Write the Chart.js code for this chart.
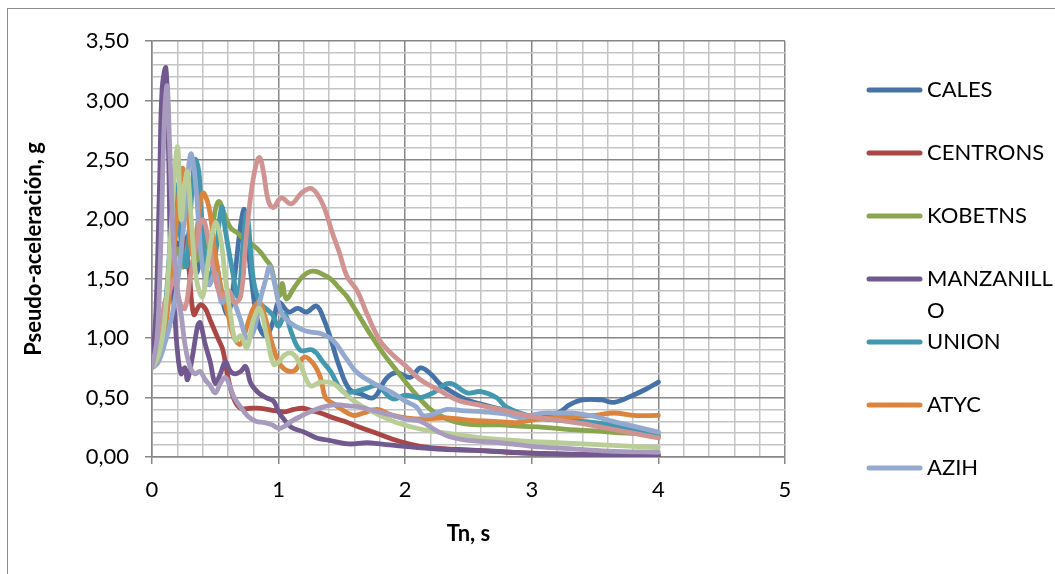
<!DOCTYPE html>
<html>
<head>
<meta charset="utf-8">
<script src="https://cdn.jsdelivr.net/npm/chart.js@4.4.1/dist/chart.umd.min.js"></script>
<style>
  html, body { margin: 0; padding: 0; background: #fff; overflow: hidden; }
  #wrap { position: relative; width: 1055px; height: 574px; overflow: hidden; }
  #frame { position: absolute; left: 7px; top: 8px; width: 1100px; height: 620px;
           border: 1.5px solid #8c8c8c; pointer-events: none; }
  canvas { position: absolute; left: 0; top: 0; }
</style>
</head>
<body>
<div id="wrap">
  <div id="frame"></div>
  <canvas id="c" width="1055" height="574"></canvas>
</div>
<script>
// ---- Data (Tn in s, pseudo-acceleration in g) ----
const seriesNames = ["CALES", "CENTRONS", "KOBETNS", "MANZANILLO", "UNION", "ATYC", "AZIH", "SERIE 8", "SERIE 9", "SERIE 10"];
const legendLines = [["CALES"], ["CENTRONS"], ["KOBETNS"], ["MANZANILL", "O"], ["UNION"], ["ATYC"], ["AZIH"]];
const seriesColors = ["#4572A7", "#AA4643", "#89A54E", "#71588F", "#4198AF", "#DB843D", "#93A9CF", "#D19392", "#B9CD96", "#A99BBD"];

const xTickValues = [0, 1, 2, 3, 4, 5];
const yTickValues = [0, 0.5, 1, 1.5, 2, 2.5, 3, 3.5];

const calesX = [0, 0.05, 0.1, 0.15, 0.2, 0.25, 0.3, 0.35, 0.4, 0.45, 0.5, 0.55, 0.6, 0.65, 0.7, 0.73, 0.78, 0.84, 0.9, 0.96, 1.0, 1.08, 1.15, 1.22, 1.3, 1.36, 1.41, 1.48, 1.56, 1.65, 1.75, 1.85, 1.93, 2.04, 2.12, 2.2, 2.27, 2.38, 2.49, 2.65, 2.8, 2.95, 3.1, 3.22, 3.3, 3.4, 3.55, 3.65, 3.8, 3.9, 4.0];
const calesY = [0.75, 0.85, 1.2, 1.5, 1.8, 1.6, 1.9, 1.55, 1.75, 1.45, 1.65, 1.35, 1.2, 1.5, 1.95, 2.08, 1.55, 1.12, 1.02, 1.15, 1.3, 1.22, 1.25, 1.22, 1.27, 1.15, 1.0, 0.76, 0.57, 0.53, 0.5, 0.66, 0.71, 0.67, 0.75, 0.7, 0.62, 0.54, 0.48, 0.43, 0.39, 0.35, 0.34, 0.38, 0.44, 0.48, 0.48, 0.46, 0.52, 0.57, 0.63];

const centronsX = [0, 0.05, 0.1, 0.15, 0.2, 0.25, 0.29, 0.33, 0.38, 0.42, 0.46, 0.52, 0.56, 0.6, 0.65, 0.7, 0.78, 0.86, 0.97, 1.05, 1.12, 1.19, 1.26, 1.33, 1.43, 1.52, 1.64, 1.8, 1.96, 2.12, 2.3, 2.5, 2.8, 3.1, 3.5, 4.0];
const centronsY = [0.75, 0.85, 1.15, 1.55, 1.95, 1.85, 1.6, 1.2, 1.28, 1.25, 1.15, 1.0, 0.9, 0.67, 0.48, 0.41, 0.41, 0.41, 0.39, 0.38, 0.4, 0.41, 0.39, 0.37, 0.33, 0.3, 0.25, 0.19, 0.13, 0.09, 0.07, 0.06, 0.04, 0.03, 0.02, 0.01];

const kobetnsX = [0, 0.05, 0.1, 0.15, 0.2, 0.25, 0.3, 0.35, 0.4, 0.45, 0.5, 0.53, 0.57, 0.62, 0.68, 0.73, 0.8, 0.86, 0.9, 0.94, 0.98, 1.01, 1.03, 1.06, 1.12, 1.19, 1.25, 1.3, 1.36, 1.41, 1.48, 1.54, 1.6, 1.72, 1.82, 1.93, 2.05, 2.2, 2.33, 2.46, 2.6, 2.75, 2.9, 3.1, 3.3, 3.5, 3.75, 4.0];
const kobetnsY = [0.75, 0.82, 1.1, 1.5, 1.75, 1.6, 1.85, 1.65, 1.9, 1.75, 2.08, 2.15, 2.05, 1.93, 1.88, 1.83, 1.78, 1.72, 1.66, 1.6, 1.42, 1.36, 1.46, 1.33, 1.42, 1.52, 1.56, 1.56, 1.53, 1.5, 1.42, 1.35, 1.25, 1.04, 0.88, 0.73, 0.57, 0.4, 0.32, 0.28, 0.27, 0.27, 0.26, 0.25, 0.23, 0.22, 0.2, 0.19];

const manzanilloX = [0, 0.03, 0.06, 0.08, 0.11, 0.13, 0.15, 0.18, 0.2, 0.23, 0.26, 0.28, 0.32, 0.36, 0.38, 0.42, 0.46, 0.5, 0.54, 0.58, 0.62, 0.66, 0.7, 0.74, 0.78, 0.84, 0.9, 0.96, 1.0, 1.04, 1.1, 1.2, 1.3, 1.4, 1.55, 1.7, 1.8, 1.9, 2.1, 2.4, 2.7, 3.0, 3.5, 4.0];
const manzanilloY = [0.75, 1.2, 2.3, 3.1, 3.27, 2.6, 1.6, 1.2, 0.9, 0.7, 0.75, 0.65, 0.85, 1.1, 1.13, 0.95, 0.8, 0.62, 0.7, 0.8, 0.72, 0.7, 0.72, 0.76, 0.62, 0.54, 0.5, 0.47, 0.38, 0.32, 0.25, 0.21, 0.16, 0.14, 0.11, 0.12, 0.11, 0.1, 0.08, 0.06, 0.05, 0.03, 0.02, 0.02];

const unionX = [0, 0.05, 0.1, 0.15, 0.18, 0.22, 0.27, 0.3, 0.34, 0.37, 0.4, 0.45, 0.5, 0.55, 0.58, 0.63, 0.68, 0.72, 0.75, 0.8, 0.85, 0.9, 0.95, 1.0, 1.05, 1.1, 1.17, 1.27, 1.35, 1.41, 1.51, 1.6, 1.7, 1.78, 1.9, 2.0, 2.12, 2.22, 2.35, 2.49, 2.6, 2.72, 2.8, 3.0, 3.2, 3.5, 3.8, 4.0];
const unionY = [0.75, 0.85, 1.2, 1.9, 2.3, 1.9, 1.6, 2.0, 2.5, 2.4, 1.9, 1.5, 1.7, 2.1, 1.9, 1.6, 1.35, 1.8, 2.05, 1.5, 1.3, 1.25, 1.2, 1.1, 1.2, 1.05, 0.9, 0.9, 0.8, 0.72, 0.55, 0.55, 0.58, 0.6, 0.49, 0.52, 0.5, 0.54, 0.62, 0.54, 0.55, 0.5, 0.42, 0.34, 0.31, 0.29, 0.23, 0.17];

const atycX = [0, 0.05, 0.1, 0.15, 0.2, 0.24, 0.28, 0.32, 0.36, 0.4, 0.45, 0.5, 0.55, 0.6, 0.65, 0.7, 0.75, 0.8, 0.85, 0.9, 0.95, 1.0, 1.06, 1.13, 1.2, 1.27, 1.33, 1.37, 1.43, 1.5, 1.59, 1.67, 1.78, 1.9, 2.0, 2.15, 2.33, 2.5, 2.7, 2.88, 3.0, 3.15, 3.35, 3.5, 3.65, 3.8, 4.0];
const atycY = [0.75, 0.8, 1.05, 1.5, 2.05, 2.43, 2.1, 1.7, 1.95, 2.22, 2.1, 1.7, 1.4, 1.2, 1.0, 0.95, 1.1, 1.25, 1.3, 1.15, 0.95, 0.8, 0.73, 0.73, 0.84, 0.79, 0.67, 0.5, 0.45, 0.4, 0.35, 0.37, 0.4, 0.35, 0.33, 0.32, 0.33, 0.31, 0.3, 0.29, 0.31, 0.33, 0.34, 0.35, 0.37, 0.35, 0.35];

const azihX = [0, 0.05, 0.1, 0.15, 0.2, 0.25, 0.29, 0.31, 0.34, 0.37, 0.4, 0.45, 0.5, 0.55, 0.6, 0.65, 0.7, 0.75, 0.8, 0.85, 0.9, 0.93, 0.97, 1.02, 1.09, 1.19, 1.26, 1.33, 1.43, 1.54, 1.62, 1.75, 1.9, 2.0, 2.09, 2.14, 2.22, 2.33, 2.45, 2.62, 2.8, 2.91, 3.0, 3.09, 3.2, 3.33, 3.5, 3.64, 3.8, 4.0];
const azihY = [0.75, 0.8, 0.95, 1.15, 1.45, 1.95, 2.45, 2.55, 2.35, 1.95, 1.6, 1.45, 1.55, 1.3, 1.4, 1.3, 1.15, 1.0, 1.05, 1.3, 1.5, 1.6, 1.45, 1.22, 1.13, 1.07, 1.05, 1.04, 0.98, 0.82, 0.71, 0.62, 0.54, 0.47, 0.42, 0.35, 0.36, 0.4, 0.39, 0.38, 0.36, 0.33, 0.35, 0.37, 0.37, 0.37, 0.34, 0.3, 0.26, 0.21];

const serie8X = [0, 0.05, 0.1, 0.14, 0.18, 0.22, 0.26, 0.3, 0.35, 0.4, 0.45, 0.5, 0.55, 0.6, 0.65, 0.7, 0.74, 0.78, 0.82, 0.85, 0.88, 0.92, 0.96, 1.02, 1.1, 1.18, 1.25, 1.3, 1.36, 1.42, 1.48, 1.54, 1.62, 1.7, 1.8, 1.9, 2.0, 2.12, 2.27, 2.41, 2.57, 2.75, 3.0, 3.2, 3.4, 3.6, 3.8, 4.0];
const serie8Y = [0.75, 0.9, 1.3, 1.4, 1.5, 1.3, 1.25, 1.5, 1.8, 2.0, 1.8, 1.5, 1.35, 1.4, 1.3, 1.35, 1.8, 2.2, 2.45, 2.52, 2.4, 2.15, 2.1, 2.18, 2.13, 2.22, 2.26, 2.22, 2.1, 1.9, 1.72, 1.52, 1.4, 1.2, 0.98, 0.86, 0.77, 0.65, 0.56, 0.48, 0.44, 0.4, 0.34, 0.31, 0.28, 0.24, 0.2, 0.16];

const serie9X = [0, 0.05, 0.1, 0.15, 0.2, 0.23, 0.26, 0.28, 0.31, 0.35, 0.4, 0.45, 0.5, 0.54, 0.58, 0.62, 0.66, 0.7, 0.75, 0.8, 0.85, 0.91, 0.96, 1.0, 1.05, 1.11, 1.17, 1.25, 1.33, 1.43, 1.56, 1.64, 1.8, 1.93, 2.1, 2.33, 2.6, 2.85, 3.2, 3.6, 4.0];
const serie9Y = [0.75, 0.85, 1.15, 1.9, 2.61, 2.0, 2.3, 2.4, 2.0, 1.5, 1.35, 1.7, 1.97, 1.85, 1.5, 1.2, 0.98, 1.02, 0.92, 1.15, 1.25, 1.0, 0.78, 0.8, 0.86, 0.87, 0.78, 0.6, 0.63, 0.62, 0.5, 0.44, 0.35, 0.29, 0.24, 0.2, 0.16, 0.14, 0.12, 0.1, 0.08];

const serie10X = [0, 0.04, 0.07, 0.1, 0.12, 0.14, 0.17, 0.2, 0.23, 0.26, 0.3, 0.34, 0.38, 0.42, 0.46, 0.5, 0.54, 0.58, 0.62, 0.65, 0.7, 0.76, 0.82, 0.89, 0.95, 1.0, 1.05, 1.1, 1.17, 1.25, 1.35, 1.45, 1.55, 1.64, 1.75, 1.9, 2.0, 2.12, 2.25, 2.35, 2.5, 2.75, 3.0, 3.3, 3.6, 4.0];
const serie10Y = [0.75, 1.0, 1.8, 2.9, 3.12, 2.6, 1.8, 1.4, 1.2, 0.95, 0.76, 0.7, 0.72, 0.65, 0.6, 0.54, 0.62, 0.67, 0.58, 0.5, 0.42, 0.34, 0.3, 0.29, 0.27, 0.24, 0.26, 0.3, 0.34, 0.38, 0.42, 0.44, 0.43, 0.42, 0.39, 0.35, 0.32, 0.3, 0.22, 0.17, 0.14, 0.12, 0.09, 0.07, 0.05, 0.04];

const seriesX = [calesX, centronsX, kobetnsX, manzanilloX, unionX, atycX, azihX, serie8X, serie9X, serie10X];
const seriesY = [calesY, centronsY, kobetnsY, manzanilloY, unionY, atycY, azihY, serie8Y, serie9Y, serie10Y];

// ---- Build datasets ----
const datasets = seriesNames.map((name, i) => ({
  label: name,
  data: seriesX[i].map((x, k) => ({ x: x, y: seriesY[i][k] })),
  borderColor: seriesColors[i],
  backgroundColor: seriesColors[i],
  borderWidth: 4.8,
  pointRadius: 0,
  showLine: true,
  tension: 0.4,
  borderCapStyle: 'round',
  borderJoinStyle: 'round',
  order: seriesNames.length - i
}));

const FONT = "Lato";
const MAJOR = '#878787';
const MINOR = '#c4c4c4';
const near = (v, list) => list.some(t => Math.abs(v - t) < 1e-6);

// Excel-like legend on the right (first seven entries visible)
const sideLegend = {
  id: 'sideLegend',
  afterDraw(chart) {
    const ctx = chart.ctx;
    ctx.save();
    ctx.font = "22px " + FONT;
    ctx.fillStyle = '#000';
    ctx.textBaseline = 'middle';
    ctx.textAlign = 'left';
    legendLines.forEach((lines, i) => {
      const y = 90 + 63 * i;
      ctx.strokeStyle = chart.data.datasets[i].borderColor;
      ctx.lineWidth = 5;
      ctx.lineCap = 'round';
      ctx.beginPath();
      ctx.moveTo(869, y);
      ctx.lineTo(920, y);
      ctx.stroke();
      lines.forEach((t, j) => ctx.fillText(t, 927, y + 32 * j));
    });
    ctx.restore();
  }
};

new Chart(document.getElementById('c'), {
  type: 'scatter',
  data: { datasets: datasets },
  plugins: [sideLegend],
  options: {
    responsive: false,
    animation: false,
    devicePixelRatio: 1,
    layout: { padding: { left: 0, top: 41, right: 270, bottom: 0 } },
    plugins: { legend: { display: false }, tooltip: { enabled: false } },
    scales: {
      x: {
        type: 'linear', min: 0, max: 5,
        afterFit: (s) => { s.height = 117; },
        ticks: {
          stepSize: 0.2, autoSkip: false, maxRotation: 0, padding: 13,
          color: '#000', font: { family: FONT, size: 22 },
          callback: (v) => near(v, xTickValues) ? String(Math.round(v)) : ''
        },
        grid: {
          color: (c) => near(c.tick.value, xTickValues) ? MAJOR : MINOR,
          lineWidth: 1.5,
          tickLength: 7,
          tickColor: (c) => near(c.tick.value, xTickValues) ? MAJOR : 'rgba(0,0,0,0)'
        },
        border: { color: MAJOR, width: 1.5 },
        title: {
          display: true, text: 'Tn, s', color: '#000',
          font: { family: FONT, size: 22, weight: 'bold' },
          padding: { top: 0, bottom: 27 }
        }
      },
      y: {
        type: 'linear', min: 0, max: 3.5,
        afterFit: (s) => { s.width = 152; },
        ticks: {
          stepSize: 0.1, autoSkip: false, padding: 16,
          color: '#000', font: { family: FONT, size: 22 },
          callback: (v) => near(v, yTickValues) ? v.toFixed(2).replace('.', ',') : ''
        },
        grid: {
          color: (c) => near(c.tick.value, yTickValues) ? MAJOR : MINOR,
          lineWidth: 1.5,
          tickLength: 7,
          tickColor: (c) => near(c.tick.value, yTickValues) ? MAJOR : 'rgba(0,0,0,0)'
        },
        border: { color: MAJOR, width: 1.5 },
        title: {
          display: true, text: 'Pseudo-aceleración, g', color: '#000',
          font: { family: FONT, size: 22, weight: 'bold' },
          padding: { top: 21, bottom: 0 }
        }
      }
    }
  }
});
</script>
</body>
</html>
